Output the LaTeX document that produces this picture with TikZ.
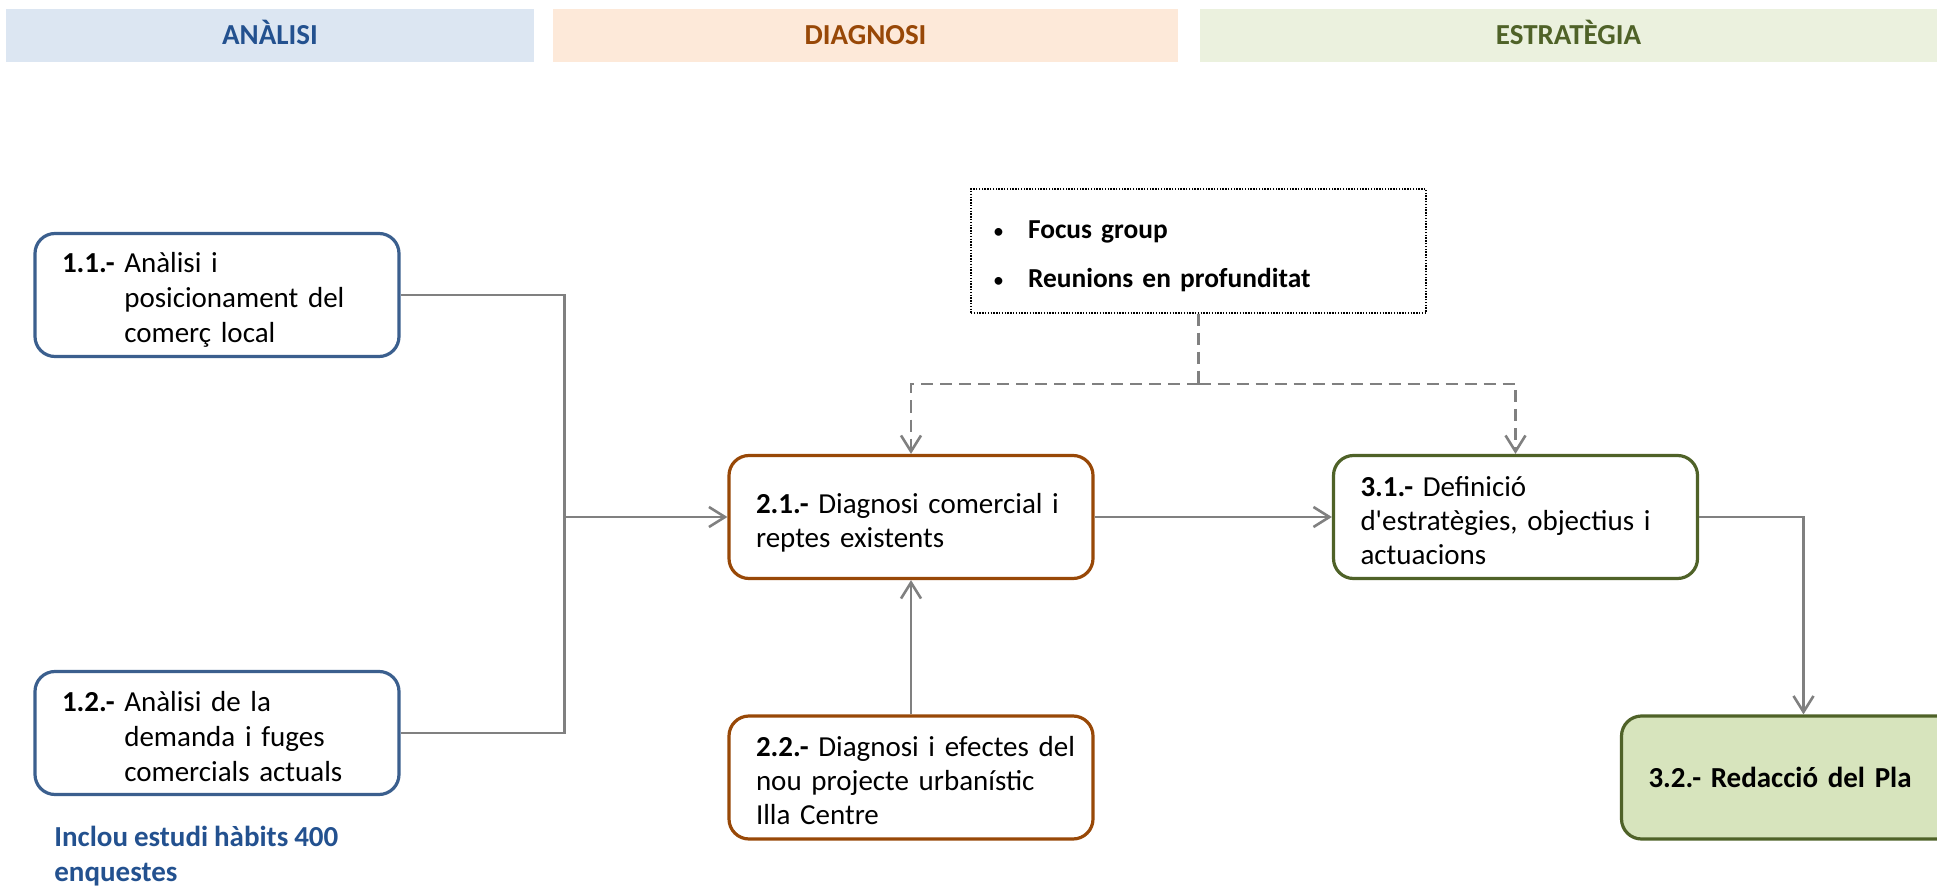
\documentclass[tikz,border=0pt]{standalone}
\usepackage{fontspec}
\setmainfont{Carlito}[Ligatures=TeXOff, WordSpace=0.9]
\usetikzlibrary{arrows.meta}
\definecolor{hbluefill}{HTML}{DCE6F2}
\definecolor{hbluetext}{HTML}{23518F}
\definecolor{horfill}{HTML}{FDE9D9}
\definecolor{hortext}{HTML}{984807}
\definecolor{hgrfill}{HTML}{EBF1DE}
\definecolor{hgrtext}{HTML}{4F6228}
\definecolor{bblue}{HTML}{3B5F8E}
\definecolor{borange}{HTML}{984807}
\definecolor{bgreen}{HTML}{4F6228}
\definecolor{gfill}{HTML}{D7E4BD}
\definecolor{conn}{HTML}{808080}
\newcommand{\lowerby}[2]{\raisebox{-#1}[\height][\depth]{#2}}
\begin{document}
\begin{tikzpicture}[x=1pt,y=-1pt,
  every node/.style={font=\fontsize{14.5pt}{17.5pt}\selectfont},
  header/.style={minimum height=26.6pt, inner sep=0pt, text height=9.3pt, text depth=0pt,
    font=\fontsize{14.5pt}{17.5pt}\selectfont\bfseries},
  stagebox/.style={rounded corners=10pt, line width=1.6pt, minimum height=61.5pt,
    inner xsep=13.5pt, inner ysep=0pt, text width=155pt, align=left, fill=white},
  tightbox/.style={stagebox, font=\fontsize{14.5pt}{17pt}\selectfont},
  focusbox/.style={draw=black, line width=0.7pt, dash pattern=on 0.7pt off 0.7pt,
    minimum width=227.5pt, minimum height=62pt, inner xsep=10.3pt, inner ysep=0pt,
    text width=206.9pt, align=left, font=\fontsize{13.7pt}{16.5pt}\selectfont},
  conn/.style={draw=conn, line width=1.3pt},
  dashconn/.style={draw=conn, line width=1.3pt, dash pattern=on 6pt off 3.5pt},
  arr/.style={-{Straight Barb[length=8pt,width=10pt]}}
]
\useasboundingbox (0,0) rectangle (968.5,443.5);
\clip (0,0) rectangle (968.5,443.5);

% headers
\node[header, fill=hbluefill, text=hbluetext, minimum width=264pt] (hA) at (135,17.6) {ANÀLISI};
\node[header, fill=horfill, text=hortext, minimum width=312.5pt] (hD) at (432.75,17.6) {DIAGNOSI};
\node[header, fill=hgrfill, text=hgrtext, minimum width=369pt] (hE) at (784.25,17.6) {ESTRATÈGIA};

% boxes
\node[stagebox, draw=bblue] (n11) at (108.5,147.5)
  {\lowerby{3pt}{\begin{tabular}{@{}l@{\ }l@{}}\textbf{1.1.-}&Anàlisi i\\&posicionament del\\&comerç local\end{tabular}}};
\node[stagebox, draw=bblue] (n12) at (108.5,366.5)
  {\lowerby{3pt}{\begin{tabular}{@{}l@{\ }l@{}}\textbf{1.2.-}&Anàlisi de la\\&demanda i fuges\\&comercials actuals\end{tabular}}};
\node[tightbox, draw=borange] (n21) at (455.5,258.5)
  {\lowerby{3.5pt}{\begin{tabular}{@{}l@{}}\textbf{2.1.-} Diagnosi comercial i\\reptes existents\end{tabular}}};
\node[tightbox, draw=borange] (n22) at (455.5,388.75)
  {\lowerby{3pt}{\begin{tabular}{@{}l@{}}\textbf{2.2.-} Diagnosi i efectes del\\nou projecte urbanístic\\Illa Centre\end{tabular}}};
\node[tightbox, draw=bgreen] (n31) at (757.75,258.5)
  {\lowerby{3.5pt}{\begin{tabular}{@{}l@{}}\textbf{3.1.-} Definició\\d'estratègies, objectius i\\actuacions\end{tabular}}};
\node[stagebox, draw=bgreen, fill=gfill] (n32) at (901.75,388.75)
  {\textbf{3.2.- Redacció del Pla}};

% focus box
\node[focusbox] (foc) at (599.25,125.5)
  {\lowerby{2.5pt}{\begin{tabular}{@{}p{18.2pt}@{}l@{}}\hspace{0.8pt}\scalebox{0.8}{\textbullet}&\textbf{Focus group}\\[8pt]\hspace{0.8pt}\scalebox{0.8}{\textbullet}&\textbf{Reunions en profunditat}\end{tabular}}};

% note
\node[anchor=base west, inner sep=0pt, text=hbluetext, font=\fontsize{14.5pt}{17.5pt}\selectfont\bfseries] (note) at (27,423)
  {\begin{tabular}[t]{@{}l@{}}Inclou estudi hàbits 400\\enquestes\end{tabular}};

% connectors
\coordinate (j1) at (282.3,258.5);
\coordinate (dj) at (599.25,192);
\draw[conn] (n11.east) -| (j1);
\draw[conn] (n12.east) -| (j1);
\draw[conn,arr] (j1) -- (n21.west);
\draw[conn,arr] (n22.north) -- (n21.south);
\draw[conn,arr] (n21.east) -- (n31.west);
\draw[conn,arr] (n31.east) -| (n32.north);
\draw[dashconn] (foc.south) -- (dj);
\draw[dashconn,arr] (dj) -| (n21.north);
\draw[dashconn,arr] (dj) -| (n31.north);
\end{tikzpicture}
\end{document}
